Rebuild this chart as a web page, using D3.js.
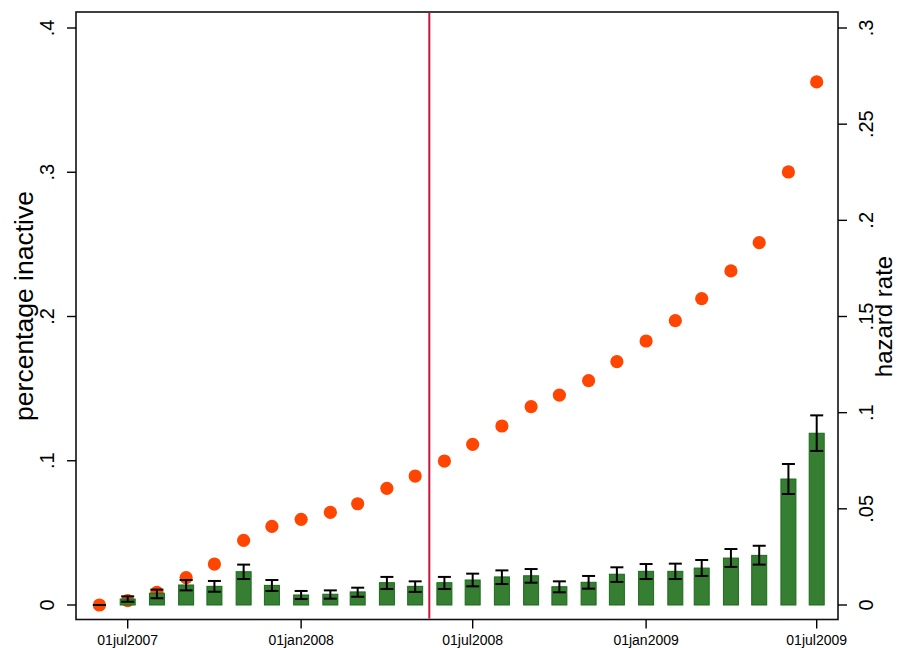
<!DOCTYPE html>
<html>
<head>
<meta charset="utf-8">
<script src="https://cdn.jsdelivr.net/npm/d3@7"></script>
<style>
  html, body { margin: 0; padding: 0; background: #ffffff; }
  svg { display: block; font-family: "Liberation Sans", Arial, sans-serif; }
</style>
</head>
<body>
<svg id="chart" width="898" height="648"></svg>
<script>
// ---- data ----
const months = ["2007-06-01","2007-07-01","2007-08-01","2007-09-01","2007-10-01","2007-11-01",
  "2007-12-01","2008-01-01","2008-02-01","2008-03-01","2008-04-01","2008-05-01","2008-06-01",
  "2008-07-01","2008-08-01","2008-09-01","2008-10-01","2008-11-01","2008-12-01","2009-01-01",
  "2009-02-01","2009-03-01","2009-04-01","2009-05-01","2009-06-01","2009-07-01"];
const pctInactive = [0, 0.003, 0.0088, 0.019, 0.0284, 0.0448, 0.0545, 0.0594, 0.0642, 0.0702,
  0.0809, 0.0894, 0.0998, 0.1114, 0.1241, 0.1375, 0.1455, 0.1555, 0.1687, 0.1830, 0.1971,
  0.2124, 0.2316, 0.2512, 0.3002, 0.3626];
const hazard = [0, 0.0031, 0.0061, 0.0104, 0.0097, 0.0173, 0.0102, 0.0052, 0.0056, 0.0068,
  0.0116, 0.0097, 0.0116, 0.0130, 0.0146, 0.0152, 0.0095, 0.0118, 0.0160, 0.0175, 0.0175,
  0.0192, 0.0244, 0.0258, 0.0655, 0.0893];
const hazardLo = [0, 0.0017, 0.0035, 0.0076, 0.0069, 0.0135, 0.0073, 0.0031, 0.0033, 0.0043,
  0.0083, 0.0068, 0.0083, 0.0097, 0.0109, 0.0116, 0.0066, 0.0085, 0.0120, 0.0135, 0.0135,
  0.0151, 0.0198, 0.0210, 0.0577, 0.0801];
const hazardHi = [0, 0.0045, 0.0080, 0.0130, 0.0125, 0.0210, 0.0130, 0.0073, 0.0076, 0.0090,
  0.0146, 0.0123, 0.0146, 0.0163, 0.0180, 0.0187, 0.0123, 0.0151, 0.0196, 0.0213, 0.0215,
  0.0234, 0.0291, 0.0308, 0.0733, 0.0986];
const xTickDates = ["2007-07-01","2008-01-01","2008-07-01","2009-01-01","2009-07-01"];
const leftTicks = [0, 0.1, 0.2, 0.3, 0.4];
const rightTicks = [0, 0.05, 0.1, 0.15, 0.2, 0.25, 0.3];
const eventDate = "2008-05-16";
const leftTitle = "percentage inactive";
const rightTitle = "hazard rate";

// ---- layout ----
const frame = { left: 76, right: 838, top: 12, bottom: 619.5 };
const parse = d3.utcParse("%Y-%m-%d");
const fmtDate = d3.utcFormat("%d%b%Y");
const fmtTick = v => v === 0 ? "0" : d3.format("")(v).replace(/^0\./, ".");

const x = d3.scaleUtc()
  .domain([parse("2007-07-01"), parse("2009-07-01")])
  .range([127.7, 816.7]);
const yL = d3.scaleLinear().domain([0, 0.4]).range([605, 28]);
const yR = d3.scaleLinear().domain([0, 0.3]).range([605, 28]);

const svg = d3.select("#chart");
const data = months.map((m, i) => ({
  date: parse(m), pct: pctInactive[i], h: hazard[i], lo: hazardLo[i], hi: hazardHi[i]
}));

// frame
svg.append("rect")
  .attr("x", frame.left).attr("y", frame.top)
  .attr("width", frame.right - frame.left).attr("height", frame.bottom - frame.top)
  .attr("fill", "none").attr("stroke", "#111").attr("stroke-width", 1.6);

// dots (percentage inactive)
svg.append("g").selectAll("circle").data(data).join("circle")
  .attr("cx", d => x(d.date)).attr("cy", d => yL(d.pct))
  .attr("r", 6.6).attr("fill", "#ff4500");

// bars (hazard)
const barW = 15;
svg.append("g").selectAll("rect").data(data.filter(d => d.h > 0)).join("rect")
  .attr("x", d => x(d.date) - barW / 2).attr("y", d => yR(d.h))
  .attr("width", barW).attr("height", d => yR(0) - yR(d.h))
  .attr("fill", "#367f32").attr("stroke", "#1b6a1b").attr("stroke-width", 1);

// error bars
const cap = 13;
const eb = svg.append("g").attr("stroke", "#000").attr("stroke-width", 2).attr("fill", "none");
data.forEach(d => {
  const cx = x(d.date);
  eb.append("line").attr("x1", cx).attr("x2", cx).attr("y1", yR(d.lo)).attr("y2", yR(d.hi));
  eb.append("line").attr("x1", cx - cap / 2).attr("x2", cx + cap / 2).attr("y1", yR(d.lo)).attr("y2", yR(d.lo));
  eb.append("line").attr("x1", cx - cap / 2).attr("x2", cx + cap / 2).attr("y1", yR(d.hi)).attr("y2", yR(d.hi));
});

// event line
svg.append("line")
  .attr("x1", x(parse(eventDate))).attr("x2", x(parse(eventDate)))
  .attr("y1", frame.top + 1).attr("y2", frame.bottom - 1)
  .attr("stroke", "#c8143c").attr("stroke-width", 2);

// left axis
const gL = svg.append("g");
leftTicks.forEach(t => {
  gL.append("line").attr("x1", frame.left - 9).attr("x2", frame.left)
    .attr("y1", yL(t)).attr("y2", yL(t)).attr("stroke", "#000").attr("stroke-width", 1.4);
  gL.append("text").attr("transform", `translate(54,${yL(t)}) rotate(-90)`)
    .attr("text-anchor", "middle").attr("font-size", 20).text(fmtTick(t));
});
svg.append("text").attr("transform", `translate(33,306) rotate(-90)`)
  .attr("text-anchor", "middle").attr("font-size", 26.5).text(leftTitle);

// right axis
const gR = svg.append("g");
rightTicks.forEach(t => {
  gR.append("line").attr("x1", frame.right).attr("x2", frame.right + 9)
    .attr("y1", yR(t)).attr("y2", yR(t)).attr("stroke", "#000").attr("stroke-width", 1.4);
  gR.append("text").attr("transform", `translate(873,${yR(t)}) rotate(-90)`)
    .attr("text-anchor", "middle").attr("font-size", 20).text(fmtTick(t));
});
svg.append("text").attr("transform", `translate(892,${(yR(0) + yR(0.3)) / 2}) rotate(-90)`)
  .attr("text-anchor", "middle").attr("font-size", 24).text(rightTitle);

// x axis
const gX = svg.append("g");
xTickDates.forEach(s => {
  const d = parse(s);
  gX.append("line").attr("x1", x(d)).attr("x2", x(d))
    .attr("y1", frame.bottom).attr("y2", frame.bottom + 9).attr("stroke", "#000").attr("stroke-width", 1.4);
  gX.append("text").attr("x", x(d)).attr("y", 645).attr("text-anchor", "middle")
    .attr("font-size", 14).text(fmtDate(d).toLowerCase());
});
</script>
</body>
</html>
